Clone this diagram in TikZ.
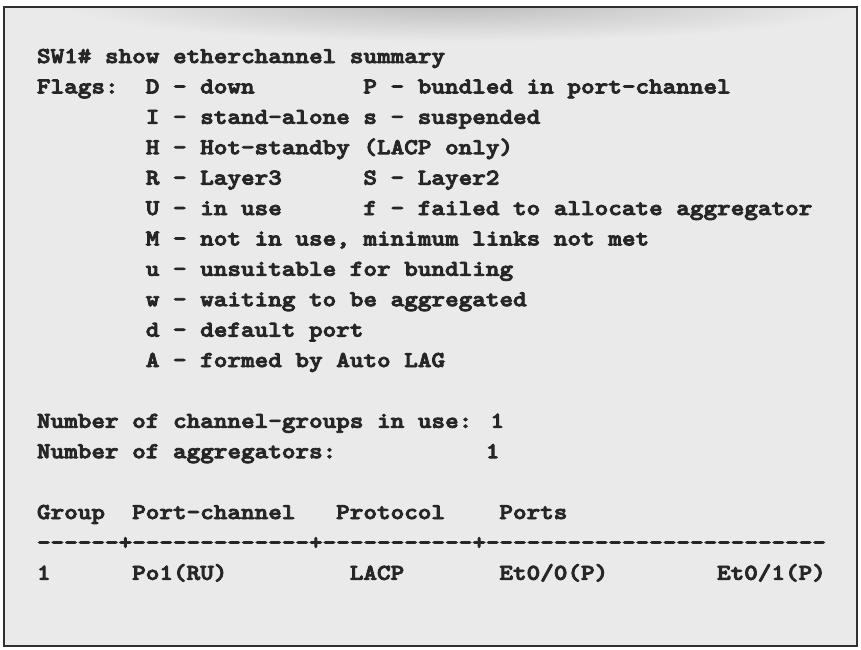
\documentclass[tikz,border=0pt]{standalone}
\usepackage{fontspec}
\newfontfamily\climono{lmmonolt10-bold.otf}[FakeBold=3.5]
\begin{document}
\begin{tikzpicture}[x=1pt,y=-1pt,
  cli/.style={anchor=base west,inner sep=0pt,outer sep=0pt,text=black!85,
    font=\climono\fontsize{22.67pt}{27pt}\selectfont}]
\definecolor{panel}{HTML}{EAEAEA}
\definecolor{shade}{HTML}{BDBDBD}
\definecolor{frame}{HTML}{303030}
\useasboundingbox (0,0) rectangle (861,649);
\fill[white] (0,0) rectangle (861,649);
\fill[panel] (4,7) rectangle (857,646);
\begin{scope}
  \clip (5,8) rectangle (856,645);
  \shade[inner color=shade,outer color=panel] (460,4) ellipse [x radius=400, y radius=38];
\end{scope}
\draw[frame,line width=2pt] (4,7) rectangle (857,646);
% rows: x = 37 + col*13.6, baseline y = 63 + k*30.4
\newcommand{\cpos}[2]{({37+#1*13.6},{63+#2*30.4})}
\newcommand{\ct}[1]{\scalebox{1.143}[1]{#1}}
\node[cli] (l0) at \cpos{0}{0} {\ct{SW1\# show etherchannel summary}};
\node[cli] (l1a) at \cpos{0}{1} {\ct{Flags:}};
\node[cli] (l1b) at \cpos{8}{1} {\ct{D - down}};
\node[cli] (l1c) at \cpos{24}{1} {\ct{P - bundled in port-channel}};
\node[cli] (l2a) at \cpos{8}{2} {\ct{I - stand-alone}};
\node[cli] (l2b) at \cpos{24}{2} {\ct{s - suspended}};
\node[cli] (l3) at \cpos{8}{3} {\ct{H - Hot-standby (LACP only)}};
\node[cli] (l4a) at \cpos{8}{4} {\ct{R - Layer3}};
\node[cli] (l4b) at \cpos{24}{4} {\ct{S - Layer2}};
\node[cli] (l5a) at \cpos{8}{5} {\ct{U - in use}};
\node[cli] (l5b) at \cpos{24}{5} {\ct{f - failed to allocate aggregator}};
\node[cli] (l6) at \cpos{8}{6} {\ct{M - not in use, minimum links not met}};
\node[cli] (l7) at \cpos{8}{7} {\ct{u - unsuitable for bundling}};
\node[cli] (l8) at \cpos{8}{8} {\ct{w - waiting to be aggregated}};
\node[cli] (l9) at \cpos{8}{9} {\ct{d - default port}};
\node[cli] (l10) at \cpos{8}{10} {\ct{A - formed by Auto LAG}};
\node[cli] (n1) at \cpos{0}{12} {\ct{Number of channel-groups in use: 1}};
\node[cli] (n2a) at \cpos{0}{13} {\ct{Number of aggregators:}};
\node[cli] (n2b) at \cpos{33}{13} {\ct{1}};
\node[cli] (h1) at \cpos{0}{15} {\ct{Group}};
\node[cli] (h2) at \cpos{7}{15} {\ct{Port-channel}};
\node[cli] (h3) at \cpos{22}{15} {\ct{Protocol}};
\node[cli] (h4) at \cpos{34}{15} {\ct{Ports}};
\node[cli] (dl) at \cpos{0}{16} {\ct{------+-------------+-----------+-------------------------}};
\node[cli] (d1) at \cpos{0}{17} {\ct{1}};
\node[cli] (d2) at \cpos{7}{17} {\ct{Po1(RU)}};
\node[cli] (d3) at \cpos{23}{17} {\ct{LACP}};
\node[cli] (d4) at \cpos{34}{17} {\ct{Et0/0(P)}};
\node[cli] (d5) at \cpos{50}{17} {\ct{Et0/1(P)}};
\end{tikzpicture}
\end{document}
